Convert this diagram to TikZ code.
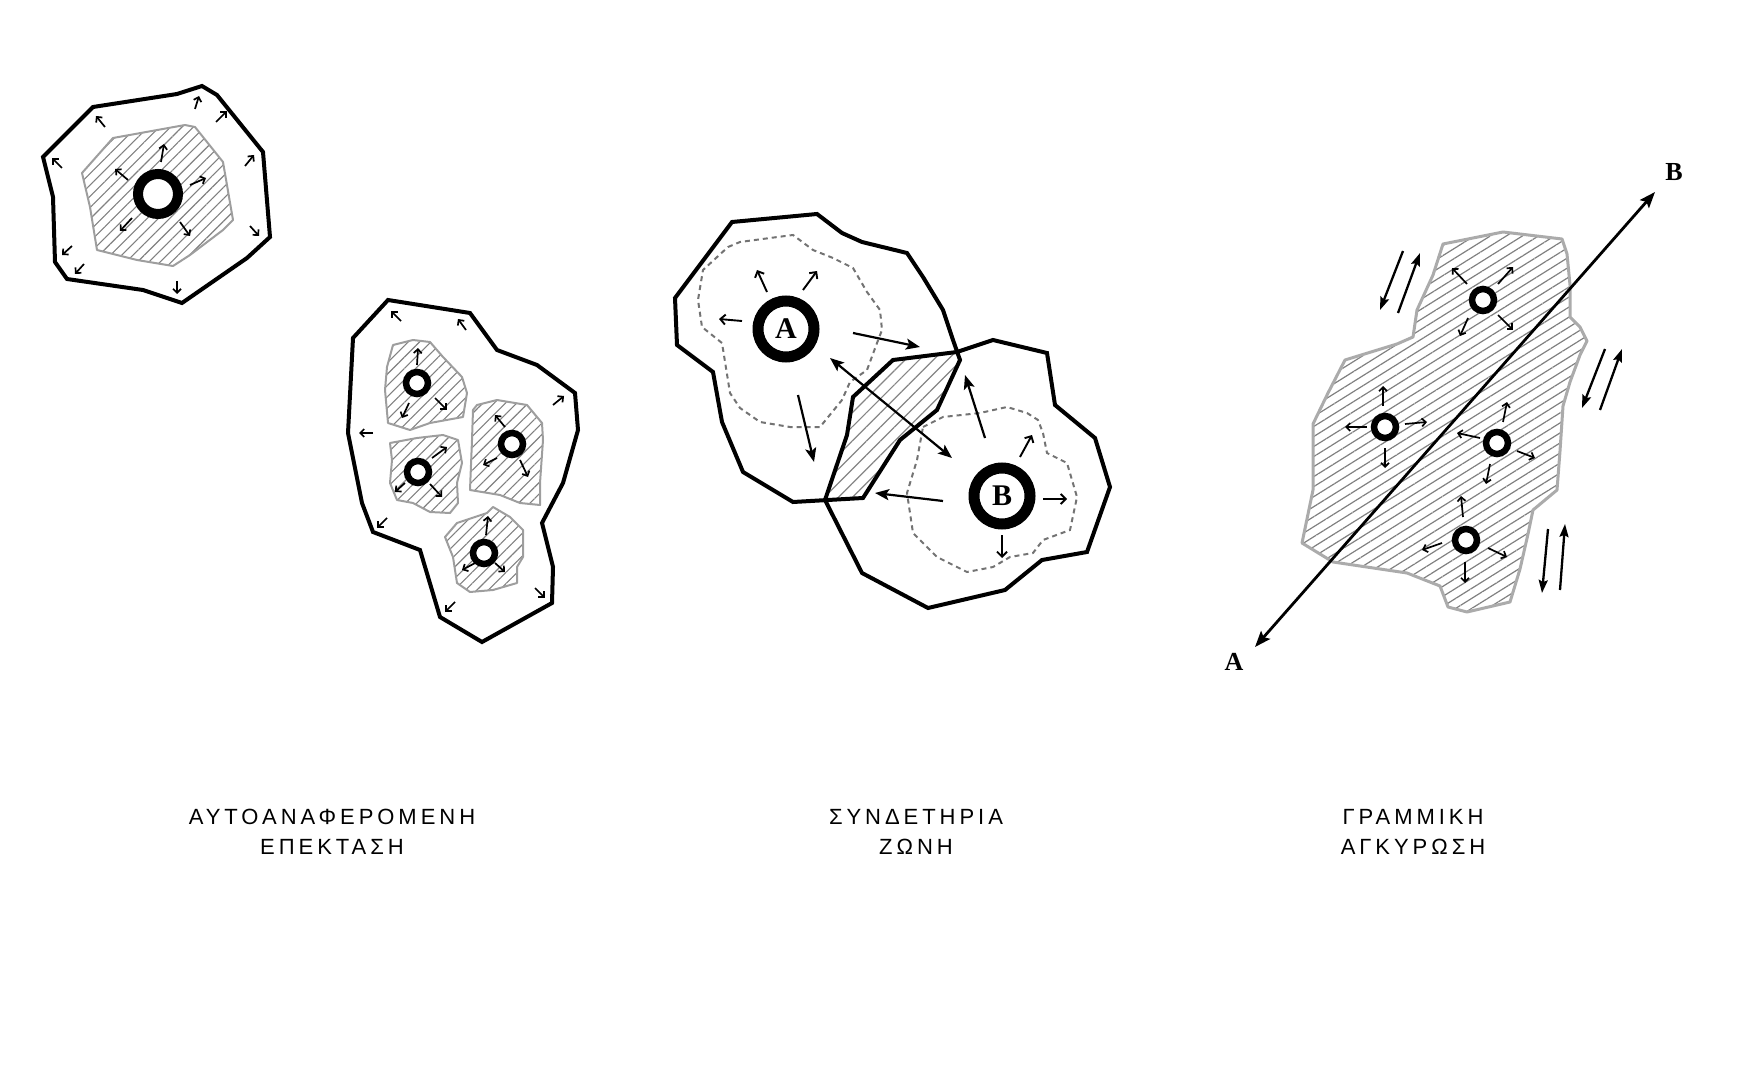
\documentclass[tikz,border=0pt]{standalone}
\usepackage{fontspec}
\usetikzlibrary{arrows.meta,patterns.meta}
\newfontfamily\capfont{Liberation Sans}[LetterSpace=18]
\newfontfamily\markfont{Liberation Serif}

\tikzset{
  rim/.style={line width=4pt, line join=miter},
  core/.style={draw=black!38, line width=2pt, line join=round, pattern={Lines[angle=45,distance=8pt,line width=1.1pt]}, pattern color=black!50},
  seed/.style={circle, draw, fill=white, line width=6.5pt, minimum size=22pt, inner sep=0pt},
  bigseed/.style={circle, draw, fill=white, line width=10pt, minimum size=40pt, inner sep=0pt},
  pole/.style={circle, draw, fill=white, line width=11pt, minimum size=56pt, inner sep=0pt, font=\markfont\bfseries\fontsize{30}{30}\selectfont},
  nudge/.style={-{Straight Barb[length=4pt,width=8pt]}, line width=1.7pt},
  flick/.style={-{Straight Barb[length=5pt,width=10pt]}, line width=1.9pt},
  thrust/.style={-{Stealth[length=14pt,width=11pt,inset=3pt]}, line width=2.2pt},
  reach/.style={draw=black!55, dash pattern=on 5pt off 4pt, line width=2pt},
  slip/.style={-{Stealth[length=13pt,width=9pt,inset=2pt]}, line width=2.3pt},
  greek/.style={font=\capfont\fontsize{22}{30}\selectfont, align=center}
}

\begin{document}
\begin{tikzpicture}[x=1pt,y=-1pt]
\useasboundingbox (0,0) rectangle (1754,1067);

% self-referential growth, single seed
\draw[core] (113,138) -- (185,125) -- (195,127) -- (223,162) -- (233,220) -- (223,230) -- (190,255) -- (173,266) -- (137,260) -- (97,250) -- (90,207) -- (82,173) -- cycle;
\draw[rim] (93,107) -- (177,94) -- (202,86) -- (217,95) -- (263,152) -- (270,237) -- (247,258) -- (182,303) -- (143,290) -- (67,279) -- (55,262) -- (53,197) -- (43,157) -- cycle;
\node[bigseed] (s0) at (158,194) {};
\draw[nudge] (161,162) -- (164,144);
\draw[nudge] (128,180) -- (115,169);
\draw[nudge] (190,185) -- (206,178);
\draw[nudge] (132,218) -- (120,231);
\draw[nudge] (180,222) -- (190,236);
\draw[nudge] (105,127) -- (96,116);
\draw[nudge] (195,109) -- (199,96);
\draw[nudge] (216,122) -- (227,111);
\draw[nudge] (245,166) -- (254,155);
\draw[nudge] (250,226) -- (259,236);
\draw[nudge] (177,281) -- (177,294);
\draw[nudge] (84,264) -- (75,274);
\draw[nudge] (72,246) -- (62,255);
\draw[nudge] (62,168) -- (52,158);

% self-referential growth, four seeds
\draw[core] (393,345) -- (413,340) -- (430,342) -- (443,357) -- (462,377) -- (467,393) -- (463,417) -- (430,423) -- (410,430) -- (388,423) -- (385,390) -- (387,367) -- cycle;
\draw[core] (390,443) -- (417,438) -- (443,435) -- (458,440) -- (462,463) -- (457,483) -- (458,503) -- (450,513) -- (430,512) -- (413,503) -- (397,500) -- (390,483) -- (392,460) -- cycle;
\draw[core] (477,405) -- (497,400) -- (527,405) -- (542,423) -- (543,440) -- (540,483) -- (540,505) -- (520,503) -- (500,495) -- (482,492) -- (470,490) -- (472,440) -- (473,410) -- cycle;
\draw[core] (457,523) -- (487,513) -- (493,507) -- (510,517) -- (523,530) -- (523,557) -- (517,567) -- (517,583) -- (493,590) -- (470,592) -- (457,583) -- (453,557) -- (445,537) -- cycle;
\draw[rim] (388,300) -- (470,313) -- (497,350) -- (537,365) -- (575,393) -- (578,430) -- (563,483) -- (542,523) -- (553,567) -- (552,603) -- (482,642) -- (440,617) -- (420,550) -- (373,532) -- (362,503) -- (348,433) -- (353,338) -- cycle;
\node[seed] (s1) at (417,383) {};
\node[seed] (s2) at (418,472) {};
\node[seed] (s3) at (512,444) {};
\node[seed] (s4) at (484,553) {};
\draw[nudge] (417,365) -- (418,348);
\draw[nudge] (409,403) -- (402,418);
\draw[nudge] (435,398) -- (447,410);
\draw[nudge] (432,458) -- (447,447);
\draw[nudge] (405,483) -- (395,492);
\draw[nudge] (430,484) -- (442,497);
\draw[nudge] (505,427) -- (495,415);
\draw[nudge] (497,458) -- (483,465);
\draw[nudge] (520,460) -- (528,477);
\draw[nudge] (486,535) -- (488,516);
\draw[nudge] (477,562) -- (462,570);
\draw[nudge] (495,563) -- (505,572);
\draw[nudge] (401,321) -- (391,311);
\draw[nudge] (466,330) -- (458,319);
\draw[nudge] (553,405) -- (564,396);
\draw[nudge] (373,433) -- (359,433);
\draw[nudge] (387,518) -- (377,528);
\draw[nudge] (455,602) -- (445,612);
\draw[nudge] (535,588) -- (545,598);

% connecting zone
\draw[reach] (728,247) -- (740,242) -- (770,238) -- (793,235) -- (813,250) -- (833,258) -- (853,268) -- (867,292) -- (880,310) -- (882,330) -- (877,343) -- (867,370) -- (850,382) -- (842,400) -- (820,427) -- (790,427) -- (760,422) -- (740,408) -- (730,393) -- (722,343) -- (702,327) -- (698,300) -- (703,270) -- cycle;
\draw[reach] (923,427) -- (943,417) -- (980,413) -- (1007,407) -- (1027,413) -- (1038,420) -- (1043,433) -- (1047,453) -- (1067,463) -- (1077,497) -- (1070,530) -- (1043,540) -- (1033,553) -- (1010,557) -- (993,567) -- (967,572) -- (937,557) -- (913,533) -- (907,493) -- (917,460) -- cycle;
\begin{scope}
  \clip (732,222) -- (817,214) -- (842,233) -- (862,242) -- (907,253) -- (923,277) -- (943,310) -- (953,340) -- (960,360) -- (937,410) -- (900,440) -- (863,498) -- (793,502) -- (743,472) -- (722,422) -- (713,372) -- (677,345) -- (675,298) -- cycle;
  \fill[pattern={Lines[angle=45,distance=10pt,line width=1.2pt]}, pattern color=black!48] (825,500) -- (847,435) -- (853,397) -- (893,360) -- (957,352) -- (993,340) -- (1047,353) -- (1055,405) -- (1095,438) -- (1110,487) -- (1087,552) -- (1042,560) -- (1005,590) -- (928,608) -- (862,573) -- cycle;
\end{scope}
\draw[rim] (732,222) -- (817,214) -- (842,233) -- (862,242) -- (907,253) -- (923,277) -- (943,310) -- (953,340) -- (960,360) -- (937,410) -- (900,440) -- (863,498) -- (793,502) -- (743,472) -- (722,422) -- (713,372) -- (677,345) -- (675,298) -- cycle;
\draw[rim] (825,500) -- (847,435) -- (853,397) -- (893,360) -- (957,352) -- (993,340) -- (1047,353) -- (1055,405) -- (1095,438) -- (1110,487) -- (1087,552) -- (1042,560) -- (1005,590) -- (928,608) -- (862,573) -- cycle;
\node[pole] (poleA) at (786,329) {A};
\node[pole] (poleB) at (1002,496) {B};
\draw[flick] (767,292) -- (757,270);
\draw[flick] (803,290) -- (817,271);
\draw[flick] (742,321) -- (719,319);
\draw[flick] (1020,457) -- (1032,435);
\draw[flick] (1043,499) -- (1067,499);
\draw[flick] (1002,535) -- (1002,558);
\draw[thrust] (853,333) -- (920,347);
\draw[thrust] (798,395) -- (814,462);
\draw[thrust] (985,438) -- (965,375);
\draw[thrust] (943,501) -- (875,493);
\draw[{Stealth[length=14pt,width=11pt,inset=3pt]}-{Stealth[length=14pt,width=11pt,inset=3pt]}, line width=2.2pt] (830,358) -- (952,458);

% linear anchoring
\draw[draw=black!33, line width=3pt, line join=round, pattern={Lines[angle=32,distance=8.5pt,line width=1.2pt]}, pattern color=black!50] (1443,244) -- (1503,232) -- (1562,239) -- (1567,254) -- (1570,285) -- (1570,317) -- (1580,327) -- (1587,341) -- (1580,355) -- (1570,382) -- (1563,406) -- (1560,451) -- (1557,490) -- (1533,510) -- (1528,534) -- (1520,569) -- (1510,602) -- (1467,612) -- (1448,607) -- (1440,586) -- (1407,573) -- (1333,562) -- (1302,543) -- (1313,490) -- (1313,424) -- (1328,393) -- (1345,360) -- (1397,344) -- (1413,337) -- (1417,310) -- (1433,275) -- cycle;
\coordinate (tipA) at (1255,647);
\coordinate (tipB) at (1655,192);
\draw[{Stealth[length=16pt,width=12pt,inset=3pt]}-{Stealth[length=16pt,width=12pt,inset=3pt]}, line width=2.8pt] (tipA) -- (tipB);
\node[font=\markfont\bfseries\fontsize{26}{26}\selectfont] (endA) at (1234,662) {A};
\node[font=\markfont\bfseries\fontsize{26}{26}\selectfont] (endB) at (1674,172) {B};
\node[seed] (r1) at (1483,300) {};
\node[seed] (r2) at (1385,427) {};
\node[seed] (r3) at (1497,443) {};
\node[seed] (r4) at (1466,540) {};
\draw[nudge] (1467,284) -- (1452,268);
\draw[nudge] (1498,284) -- (1513,267);
\draw[nudge] (1468,318) -- (1460,336);
\draw[nudge] (1498,315) -- (1513,330);
\draw[nudge] (1383,406) -- (1383,386);
\draw[nudge] (1367,427) -- (1345,427);
\draw[nudge] (1405,424) -- (1427,422);
\draw[nudge] (1385,448) -- (1385,468);
\draw[nudge] (1503,422) -- (1507,402);
\draw[nudge] (1480,438) -- (1457,433);
\draw[nudge] (1517,451) -- (1535,458);
\draw[nudge] (1490,464) -- (1486,484);
\draw[nudge] (1463,517) -- (1461,496);
\draw[nudge] (1442,543) -- (1422,550);
\draw[nudge] (1488,548) -- (1507,557);
\draw[nudge] (1465,562) -- (1465,583);
\draw[slip] (1403,251) -- (1380,310);
\draw[slip] (1398,313) -- (1420,253);
\draw[slip] (1605,349) -- (1582,408);
\draw[slip] (1600,410) -- (1622,349);
\draw[slip] (1548,529) -- (1542,593);
\draw[slip] (1560,590) -- (1565,524);

% captions
\node[greek] (capGrowth) at (332,832) {ΑΥΤΟΑΝΑΦΕΡΟΜΕΝΗ\\ΕΠΕΚΤΑΣΗ};
\node[greek] (capZone) at (916,832) {ΣΥΝΔΕΤΗΡΙΑ\\ΖΩΝΗ};
\node[greek] (capLine) at (1413,832) {ΓΡΑΜΜΙΚΗ\\ΑΓΚΥΡΩΣΗ};
\end{tikzpicture}
\end{document}
